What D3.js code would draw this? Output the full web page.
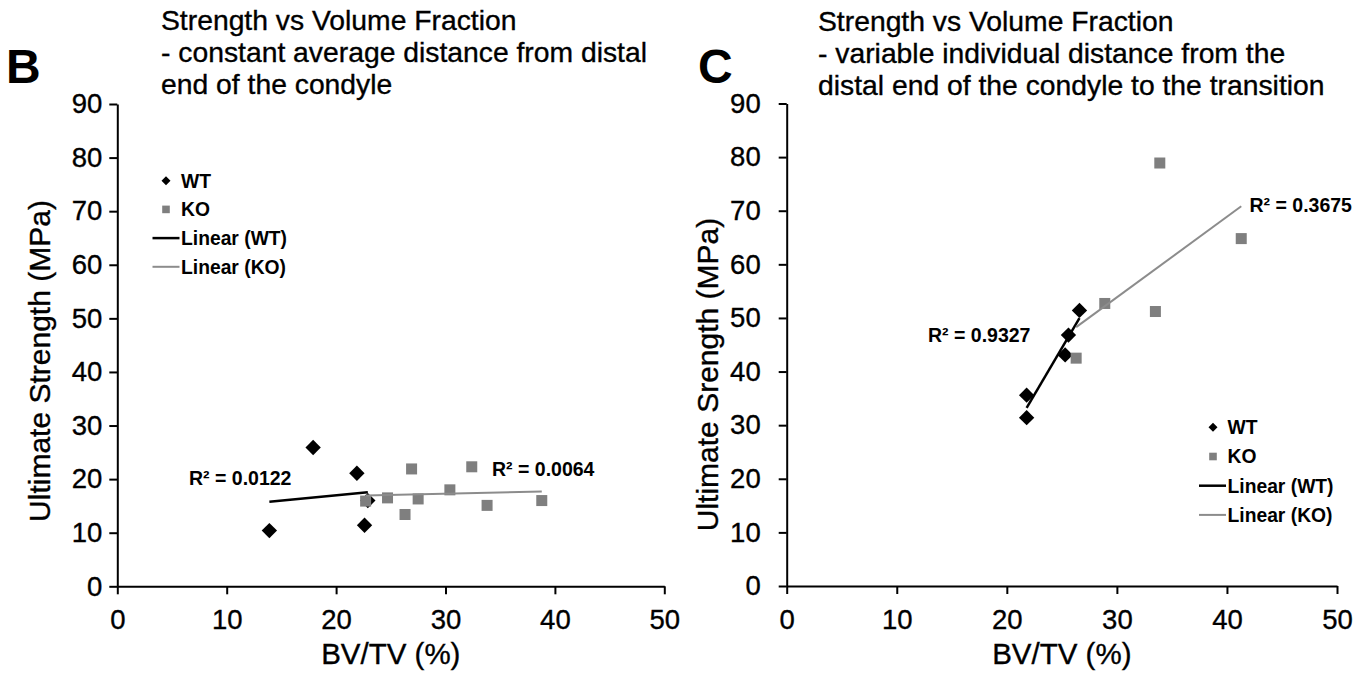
<!DOCTYPE html>
<html>
<head>
<meta charset="utf-8">
<script src="https://cdn.jsdelivr.net/npm/d3@7/dist/d3.min.js"></script>
<style>
  html, body { margin: 0; padding: 0; background: #fff; }
  svg { display: block; }
  text { font-family: 'Liberation Sans', Arial, Helvetica, sans-serif; fill: #000; }
  .heavy { stroke: #000; stroke-width: 0.35px; }
</style>
</head>
<body>
<svg id="chart" width="1366" height="675"></svg>
<script>
// ---------------- data ----------------
const xTicks = [0, 10, 20, 30, 40, 50];
const yTicks = [0, 10, 20, 30, 40, 50, 60, 70, 80, 90];
const seriesNames = ["WT", "KO"];
const legendLabels = ["WT", "KO", "Linear (WT)", "Linear (KO)"];

// Panel B
const titleB = ["Strength vs Volume Fraction", "- constant average distance from distal", "end of the condyle"];
const yLabelB = "Ultimate Strength (MPa)";
const wtB_x = [13.9, 17.9, 21.9, 22.6, 22.9];
const wtB_y = [10.4, 25.9, 21.1, 11.4, 16.0];
const koB_x = [22.7, 24.7, 26.3, 26.9, 27.5, 30.4, 32.4, 33.8, 38.8];
const koB_y = [15.9, 16.5, 13.4, 21.9, 16.3, 18.0, 22.3, 15.1, 16.0];
const r2B = ["R² = 0.0122", "R² = 0.0064"];

// Panel C
const titleC = ["Strength vs Volume Fraction", "- variable individual distance from the", "distal end of the condyle to the transition"];
const yLabelC = "Ultimate Srength (MPa)";
const wtC_x = [21.8, 21.8, 25.3, 25.6, 26.6];
const wtC_y = [31.4, 35.6, 43.1, 46.8, 51.4];
const koC_x = [26.3, 28.9, 33.5, 33.9, 41.3];
const koC_y = [42.5, 52.7, 51.2, 78.9, 64.8];
const r2C = ["R² = 0.9327", "R² = 0.3675"];

const xLabel = "BV/TV (%)";

// ---------------- styling / layout ----------------
const WT_COLOR = "#000000";
const KO_COLOR = "#7f7f7f";
const KO_LINE = "#8c8c8c";

const panels = [
  {
    letter: "B", letterX: 6, letterY: 83,
    title: titleB, titleX: 161, titleY: 30,
    yLabel: yLabelB, yLabelX: 49.5, yLabelY: 361,
    x0: 117.3, x1: 664.3, y0: 586.3, y1: 104,
    tickPad: 7,
    wt: { x: wtB_x, y: wtB_y }, ko: { x: koB_x, y: koB_y },
    r2: r2B, r2Pos: [[189, 484.5], [492, 475.8]],
    legendMarkerX: 166, legendY: 180.7, legendStep: 28.7, legendLine: [152.5, 179.5], legendTextX: 181
  },
  {
    letter: "C", letterX: 698, letterY: 83,
    title: titleC, titleX: 818, titleY: 31,
    yLabel: yLabelC, yLabelX: 717.5, yLabelY: 374.5,
    x0: 786.7, x1: 1337, y0: 586, y1: 103.5,
    tickPad: 18,
    wt: { x: wtC_x, y: wtC_y }, ko: { x: koC_x, y: koC_y },
    r2: r2C, r2Pos: [[928, 341.7], [1249.5, 211.7]],
    legendMarkerX: 1213, legendY: 427.3, legendStep: 29.2, legendLine: [1199, 1226], legendTextX: 1227.5
  }
];

function linReg(xs, ys) {
  const n = xs.length;
  const mx = d3.mean(xs), my = d3.mean(ys);
  let sxy = 0, sxx = 0;
  for (let i = 0; i < n; i++) { sxy += (xs[i] - mx) * (ys[i] - my); sxx += (xs[i] - mx) ** 2; }
  const b = sxy / sxx;
  return { a: my - b * mx, b };
}

const svg = d3.select("#chart");
const diamond = d3.symbol().type(d3.symbolDiamond2 || d3.symbolDiamond);

panels.forEach(p => {
  const g = svg.append("g");
  const x = d3.scaleLinear().domain([0, 50]).range([p.x0, p.x1]);
  const y = d3.scaleLinear().domain([0, 90]).range([p.y0, p.y1]);

  // panel letter
  g.append("text").attr("x", p.letterX).attr("y", p.letterY)
    .attr("font-size", 48).attr("font-weight", "bold").text(p.letter);

  // title
  p.title.forEach((t, i) => {
    g.append("text").attr("class", "heavy").attr("x", p.titleX).attr("y", p.titleY + i * 31.8)
      .attr("font-size", 28.3).text(t);
  });

  // axes
  const xAxis = g.append("g").attr("transform", `translate(0,${p.y0})`)
    .call(d3.axisBottom(x).tickValues(xTicks).tickSize(8).tickSizeOuter(0).tickFormat(d3.format("d")));
  const yAxis = g.append("g").attr("transform", `translate(${p.x0},0)`)
    .call(d3.axisLeft(y).tickValues(yTicks).tickSize(8).tickSizeOuter(0).tickPadding(p.tickPad).tickFormat(d3.format("d")));
  [xAxis, yAxis].forEach(a => {
    a.select(".domain").attr("stroke", "#000").attr("stroke-width", 2);
    a.selectAll(".tick line").attr("stroke", "#000").attr("stroke-width", 2);
    a.selectAll(".tick text").attr("font-size", 27.5).attr("class", "heavy")
      .attr("font-family", "'Liberation Sans', Arial, sans-serif").attr("fill", "#000");
  });
  xAxis.selectAll(".tick text").attr("y", 43).attr("dy", null);

  // axis titles
  g.append("text").attr("class", "heavy").attr("x", (p.x0 + p.x1) / 2).attr("y", 664)
    .attr("text-anchor", "middle").attr("font-size", 29.5).text(xLabel);
  g.append("text").attr("class", "heavy").attr("transform", `translate(${p.yLabelX},${p.yLabelY}) rotate(-90)`)
    .attr("text-anchor", "middle").attr("font-size", 30).text(p.yLabel);

  // markers
  const wtPts = p.wt.x.map((v, i) => [v, p.wt.y[i]]);
  const koPts = p.ko.x.map((v, i) => [v, p.ko.y[i]]);
  g.append("g").selectAll("path").data(wtPts).join("path")
    .attr("transform", d => `translate(${x(d[0])},${y(d[1])})`)
    .attr("d", diamond.size(150)).attr("fill", WT_COLOR);
  const sq = 11;
  g.append("g").selectAll("rect").data(koPts).join("rect")
    .attr("x", d => x(d[0]) - sq / 2).attr("y", d => y(d[1]) - sq / 2)
    .attr("width", sq).attr("height", sq).attr("fill", KO_COLOR);

  // trendlines
  [[p.wt, WT_COLOR, 2.5], [p.ko, KO_LINE, 2]].forEach(([s, col, w]) => {
    const r = linReg(s.x, s.y);
    const xa = d3.min(s.x), xb = d3.max(s.x);
    g.append("line")
      .attr("x1", x(xa)).attr("y1", y(r.a + r.b * xa))
      .attr("x2", x(xb)).attr("y2", y(r.a + r.b * xb))
      .attr("stroke", col).attr("stroke-width", w);
  });

  // R² labels
  p.r2.forEach((t, i) => {
    g.append("text").attr("x", p.r2Pos[i][0]).attr("y", p.r2Pos[i][1])
      .attr("font-size", 19.5).attr("font-weight", "bold").text(t);
  });

  // legend
  const lg = g.append("g");
  legendLabels.forEach((lab, i) => {
    const cy = p.legendY + i * p.legendStep;
    if (i === 0) {
      lg.append("path").attr("transform", `translate(${p.legendMarkerX},${cy})`)
        .attr("d", diamond.size(52)).attr("fill", WT_COLOR);
    } else if (i === 1) {
      lg.append("rect").attr("x", p.legendMarkerX - 3.8).attr("y", cy - 3.8)
        .attr("width", 7.6).attr("height", 7.6).attr("fill", KO_COLOR);
    } else {
      lg.append("line").attr("x1", p.legendLine[0]).attr("x2", p.legendLine[1])
        .attr("y1", cy).attr("y2", cy)
        .attr("stroke", i === 2 ? WT_COLOR : KO_LINE).attr("stroke-width", i === 2 ? 2.5 : 2);
    }
    lg.append("text").attr("x", p.legendTextX).attr("y", cy + 6.8)
      .attr("font-size", 19.3).attr("font-weight", "bold").text(lab);
  });
});
</script>
</body>
</html>
